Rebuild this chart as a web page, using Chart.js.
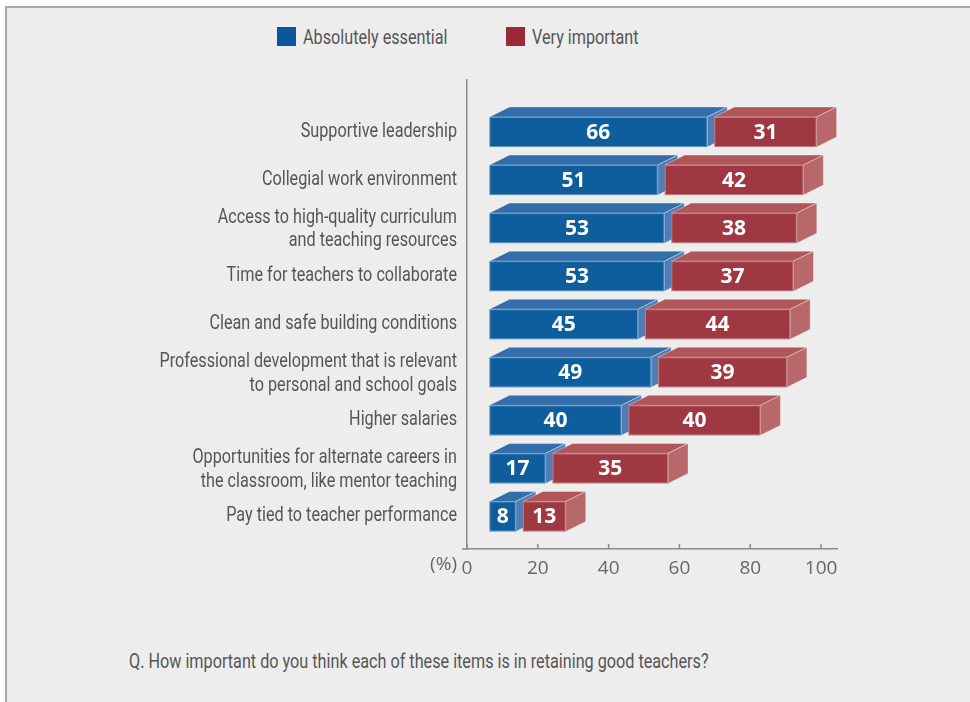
<!DOCTYPE html>
<html>
<head>
<meta charset="utf-8">
<script src="https://cdn.jsdelivr.net/npm/chart.js@4.4.1/dist/chart.umd.min.js"></script>
<style>
  html, body { margin: 0; padding: 0; background: #ffffff; }
  body { width: 970px; height: 702px; position: relative; overflow: hidden; font-family: Roboto, "Liberation Sans", sans-serif; }
  #panel { position: absolute; left: 5px; top: 6px; right: 0; bottom: 0;
           background: #ededed; border-top: 2px solid #a9a9a9; border-left: 2px solid #a9a9a9; }
  #chart { position: absolute; left: 0; top: 0; }
  .leg { position: absolute; top: 27px; height: 19px; display: flex; align-items: center; font-size: 20px; color: #555; white-space: nowrap; }
  .leg .sw { width: 19px; height: 19px; margin-right: 7px; flex: none; }
  .cond { display: inline-block; transform: scaleX(0.81); transform-origin: 0 50%; }
  #note { position: absolute; left: 129px; top: 649px; font-size: 20px; color: #555; white-space: nowrap; }
</style>
</head>
<body>
<div id="panel"></div>
<div class="leg" style="left:277px"><span class="sw" style="background:#0a5799"></span><span class="cond" id="leg0"></span></div>
<div class="leg" style="left:506px"><span class="sw" style="background:#9b2a38"></span><span class="cond" id="leg1"></span></div>
<div id="note"><span class="cond" id="noteText"></span></div>
<canvas id="chart" width="970" height="702"></canvas>
<script>
// ---- data ----
const categories = [
  ["Supportive leadership"],
  ["Collegial work environment"],
  ["Access to high-quality curriculum", "and teaching resources"],
  ["Time for teachers to collaborate"],
  ["Clean and safe building conditions"],
  ["Professional development that is relevant", "to personal and school goals"],
  ["Higher salaries"],
  ["Opportunities for alternate careers in", "the classroom, like mentor teaching"],
  ["Pay tied to teacher performance"]
];
const seriesNames = ["Absolutely essential", "Very important"];
const essential = [66, 51, 53, 53, 45, 49, 40, 17, 8];
const important = [31, 42, 38, 37, 44, 39, 40, 35, 13];
const xTicks = [0, 20, 40, 60, 80, 100];
const axisUnit = "(%)";
const question = "Q. How important do you think each of these items is in retaining good teachers?";

document.getElementById('leg0').textContent = seriesNames[0];
document.getElementById('leg1').textContent = seriesNames[1];
document.getElementById('noteText').textContent = question;

const COND = 0.81;
const labelFont = '20px Roboto, "Liberation Sans", sans-serif';
const numFont = '"Open Sans", "Noto Sans", sans-serif';
const faces = [
  { front: '#0e5e9e', top: '#346eaa', side: '#507db6' },
  { front: '#a03842', top: '#b05658', side: '#b8686a' }
];
const DEPTH_X = 20, DEPTH_Y = 10, GAP = 7;

function drawBox(ctx, x0, x1, yc, h, f) {
  const yt = yc - h / 2, yb = yc + h / 2;
  ctx.lineWidth = 1;
  ctx.strokeStyle = 'rgba(255,255,255,0.35)';
  ctx.beginPath();
  ctx.moveTo(x0, yt); ctx.lineTo(x0 + DEPTH_X, yt - DEPTH_Y);
  ctx.lineTo(x1 + DEPTH_X, yt - DEPTH_Y); ctx.lineTo(x1, yt); ctx.closePath();
  ctx.fillStyle = f.top; ctx.fill(); ctx.stroke();
  ctx.beginPath();
  ctx.moveTo(x1, yt); ctx.lineTo(x1 + DEPTH_X, yt - DEPTH_Y);
  ctx.lineTo(x1 + DEPTH_X, yb - DEPTH_Y); ctx.lineTo(x1, yb); ctx.closePath();
  ctx.fillStyle = f.side; ctx.fill(); ctx.stroke();
  ctx.fillStyle = f.front;
  ctx.fillRect(x0, yt, x1 - x0, h);
  ctx.strokeRect(x0 + 0.5, yt + 0.5, x1 - x0 - 1, h - 1);
}

const box3d = {
  id: 'box3d',
  afterDatasetsDraw(chart) {
    const ctx = chart.ctx;
    const m0 = chart.getDatasetMeta(0).data;
    const m1 = chart.getDatasetMeta(1).data;
    ctx.save();
    for (let i = 0; i < m0.length; i++) {
      const a = m0[i].getProps(['x', 'y', 'base', 'height'], true);
      const b = m1[i].getProps(['x', 'y', 'base', 'height'], true);
      drawBox(ctx, a.base, a.x, a.y, a.height, faces[0]);
      drawBox(ctx, b.base + GAP, b.x + GAP, b.y, b.height, faces[1]);
      ctx.fillStyle = '#ffffff';
      ctx.font = 'bold 21px ' + numFont;
      ctx.textAlign = 'center';
      ctx.textBaseline = 'middle';
      ctx.fillText(String(essential[i]), (a.base + a.x) / 2, a.y + 1);
      ctx.fillText(String(important[i]), (b.base + b.x) / 2 + GAP, b.y + 1);
    }
    ctx.restore();
  },
  afterDraw(chart) {
    const ctx = chart.ctx;
    const xs = chart.scales.x;
    const ys = chart.scales.y;
    const bottom = chart.chartArea.bottom;
    ctx.save();
    ctx.strokeStyle = '#8a8a8a';
    ctx.lineWidth = 1.5;
    ctx.beginPath();
    xTicks.forEach(v => {
      const px = xs.getPixelForValue(v);
      ctx.moveTo(px, bottom); ctx.lineTo(px, bottom - 5);
    });
    ctx.moveTo(xs.left - 5, bottom); ctx.lineTo(xs.left, bottom);
    ctx.stroke();
    ctx.fillStyle = '#666';
    ctx.font = '19px ' + numFont;
    ctx.textAlign = 'right';
    ctx.textBaseline = 'middle';
    ctx.fillText(axisUnit, xs.getPixelForValue(0) - 10, bottom + 16);
    ctx.fillStyle = '#555';
    ctx.font = labelFont;
    categories.forEach((lines, i) => {
      const yc = ys.getPixelForValue(i);
      const n = lines.length;
      const shift = n > 1 ? 1.5 : 0;
      lines.forEach((t, k) => {
        ctx.save();
        ctx.translate(ys.right - 10, yc + shift + (k - (n - 1) / 2) * 23.5);
        ctx.scale(COND, 1);
        ctx.fillText(t, 0, 0);
        ctx.restore();
      });
    });
    ctx.restore();
  }
};

const idx = categories.map((c, i) => i);

new Chart(document.getElementById('chart'), {
  type: 'bar',
  data: {
    datasets: [
      { label: seriesNames[0], data: essential.map((v, i) => ({ x: v, y: idx[i] })),
        xAxisID: 'xb', yAxisID: 'y', backgroundColor: 'rgba(0,0,0,0)', borderWidth: 0,
        categoryPercentage: 1, barPercentage: 0.625 },
      { label: seriesNames[1], data: important.map((v, i) => ({ x: v, y: idx[i] })),
        xAxisID: 'xb', yAxisID: 'y', backgroundColor: 'rgba(0,0,0,0)', borderWidth: 0,
        categoryPercentage: 1, barPercentage: 0.625 }
    ]
  },
  options: {
    indexAxis: 'y',
    responsive: false,
    animation: false,
    devicePixelRatio: 1,
    layout: { padding: { left: 0, right: 133, top: 80, bottom: 113 } },
    plugins: { legend: { display: false }, tooltip: { enabled: false } },
    scales: {
      xb: { type: 'linear', display: false, stacked: true, min: -6.8, max: 105.3 },
      x: {
        type: 'linear', position: 'bottom', min: 0, max: 104.5,
        afterBuildTicks: s => { s.ticks = xTicks.map(v => ({ value: v })); },
        grid: { display: false, drawTicks: false },
        border: { display: true, color: '#8a8a8a', width: 1.5 },
        ticks: { color: '#666', padding: 8, font: { family: numFont, size: 19 } },
        afterFit: s => { s.height = 40; }
      },
      y: {
        type: 'linear', reverse: true, stacked: true, offset: false, min: -1.082, max: 8.677,
        afterBuildTicks: s => { s.ticks = idx.map(v => ({ value: v })); },
        grid: { display: false, drawTicks: false, offset: false },
        border: { display: true, color: '#8a8a8a', width: 1.5 },
        ticks: { display: false },
        afterFit: s => { s.width = 467; }
      }
    }
  },
  plugins: [box3d]
});
</script>
</body>
</html>
